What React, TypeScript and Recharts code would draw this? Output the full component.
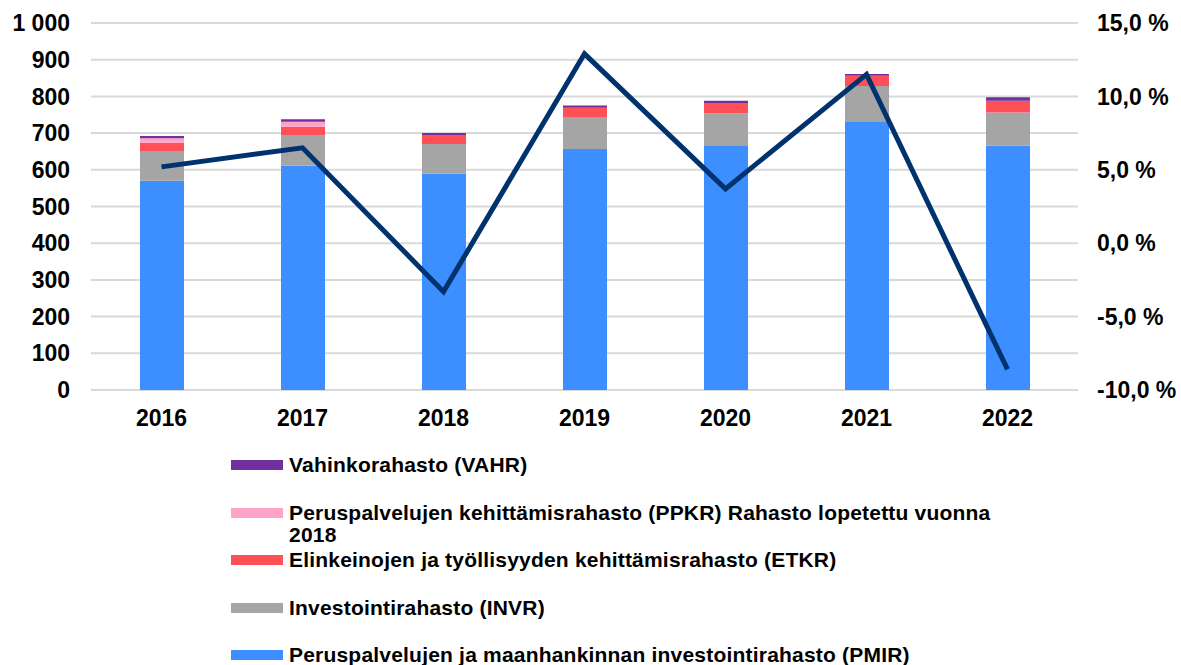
import React from 'react';
import { ComposedChart, Bar, Line, XAxis, YAxis, CartesianGrid } from 'recharts';

const years = ['2016', '2017', '2018', '2019', '2020', '2021', '2022'];
const pmir = [570, 611, 589, 657, 667, 732, 666];
const invr = [81, 84, 81, 87, 87, 96, 90];
const etkr = [23, 22, 25, 25, 28, 28, 32];
const ppkr = [12, 14, 0, 0, 0, 0, 0];
const vahr = [6, 7, 5, 6, 6, 5, 10];
const change = [5.2, 6.5, -3.3, 12.9, 3.7, 11.5, -8.6];
const leftTicks = [0, 100, 200, 300, 400, 500, 600, 700, 800, 900, 1000];
const rightTicks = [-10, -5, 0, 5, 10, 15];

const seriesKeys = ['pmir', 'invr', 'etkr', 'ppkr', 'vahr'];
const seriesNames = [
  'Peruspalvelujen ja maanhankinnan investointirahasto (PMIR)',
  'Investointirahasto (INVR)',
  'Elinkeinojen ja työllisyyden kehittämisrahasto (ETKR)',
  'Peruspalvelujen kehittämisrahasto (PPKR) Rahasto lopetettu vuonna 2018',
  'Vahinkorahasto (VAHR)',
];
const seriesColors = ['#3D8EFF', '#A5A5A5', '#FF5058', '#FFA3C8', '#7030A0'];
const lineColor = '#00336E';

const data = years.map((y, i) => ({
  year: y,
  pmir: pmir[i],
  invr: invr[i],
  etkr: etkr[i],
  ppkr: ppkr[i],
  vahr: vahr[i],
  change: change[i],
}));

const fmtLeft = (v: number) => String(v).replace(/\B(?=(\d{3})+(?!\d))/g, ' ');
const fmtRight = (v: number) => v.toFixed(1).replace('.', ',') + ' %';

const font = '"Liberation Sans", Arial, sans-serif';
const tickStyle = { fontFamily: font, fontWeight: 700, fontSize: 23, fill: '#000' };

export default function App() {
  const legendOrder = [4, 3, 2, 1, 0];
  return (
    <div style={{ position: 'absolute', left: 0, top: 0, width: 1181, height: 665, background: '#fff' }}>
      <ComposedChart
        width={1181}
        height={445}
        data={data}
        margin={{ top: 23, right: 0, left: 0, bottom: 0 }}
        barSize={44}
      >
        <CartesianGrid yAxisId="left" vertical={false} stroke="#D9D9D9" strokeWidth={2} />
        <XAxis
          dataKey="year"
          axisLine={false}
          tickLine={false}
          tickSize={0}
          tickMargin={20}
          height={55}
          tick={tickStyle}
          interval={0}
        />
        <YAxis
          yAxisId="left"
          orientation="left"
          width={91}
          domain={[0, 1000]}
          ticks={leftTicks}
          tickFormatter={fmtLeft}
          axisLine={false}
          tickLine={false}
          tickSize={0}
          tickMargin={21}
          tick={tickStyle}
          interval={0}
        />
        <YAxis
          yAxisId="right"
          orientation="right"
          width={103}
          domain={[-10, 15]}
          ticks={rightTicks}
          tickFormatter={fmtRight}
          axisLine={false}
          tickLine={false}
          tickSize={0}
          tickMargin={19}
          tick={tickStyle}
          interval={0}
        />
        {seriesKeys.map((k, i) => (
          <Bar
            key={k}
            yAxisId="left"
            dataKey={k}
            name={seriesNames[i]}
            stackId="a"
            fill={seriesColors[i]}
            isAnimationActive={false}
          />
        ))}
        <Line
          yAxisId="right"
          dataKey="change"
          type="linear"
          stroke={lineColor}
          strokeWidth={5}
          dot={false}
          activeDot={false}
          isAnimationActive={false}
        />
      </ComposedChart>
      <div
        style={{
          position: 'absolute',
          left: 231,
          top: 454,
          display: 'flex',
          flexDirection: 'column',
          fontFamily: font,
          fontWeight: 700,
          fontSize: 21,
          letterSpacing: 0.2,
          lineHeight: '22px',
          color: '#000',
        }}
      >
        {legendOrder.map((idx) => (
          <div key={idx} style={{ display: 'flex', alignItems: 'flex-start', minHeight: 47.5 }}>
            <div style={{ width: 52, height: 10, marginTop: 6, background: seriesColors[idx], flexShrink: 0 }} />
            <div style={{ marginLeft: 6, maxWidth: 725 }}>{seriesNames[idx]}</div>
          </div>
        ))}
      </div>
    </div>
  );
}
